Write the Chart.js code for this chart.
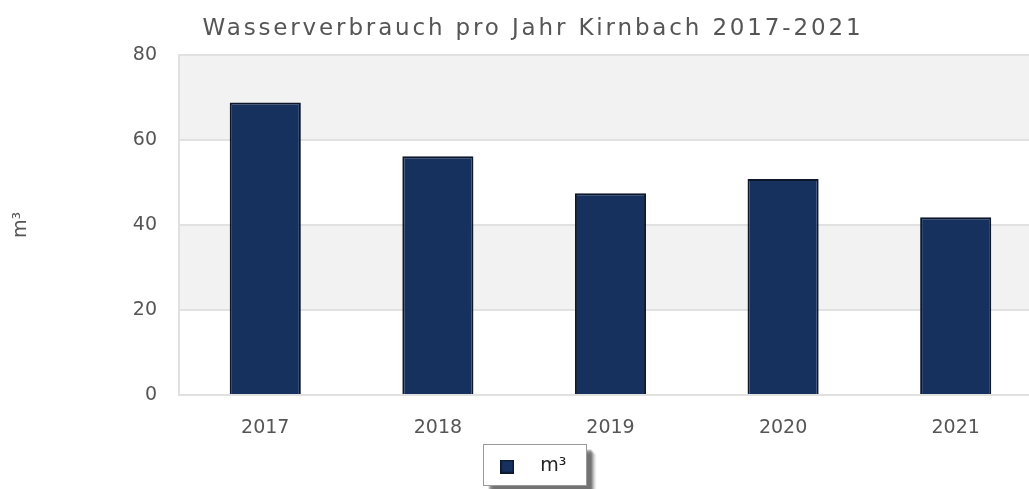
<!DOCTYPE html>
<html lang="de">
<head>
<meta charset="utf-8">
<title>Wasserverbrauch pro Jahr Kirnbach 2017-2021</title>
<script src="https://cdn.jsdelivr.net/npm/chart.js@4.4.1/dist/chart.umd.min.js"></script>
<style>
  html, body { margin: 0; padding: 0; background: #fff; overflow: hidden; }
  #wrap { position: relative; width: 1066px; height: 489px; }
  #chart { position: absolute; left: 0; top: 0; }
  /* Title as HTML so it can carry the wide letter spacing of the original */
  #title {
    position: absolute; left: 0; top: 16px; width: 1066px;
    text-align: center; color: #555;
    font: 23px/23px 'DejaVu Sans', sans-serif; letter-spacing: 2.85px;
  }
</style>
</head>
<body>
<div id="wrap">
  <canvas id="chart" width="1066" height="489"></canvas>
  <div id="title">Wasserverbrauch pro Jahr Kirnbach 2017-2021</div>
</div>
<script>
/* Data */
var YEARS = ['2017', '2018', '2019', '2020', '2021'];
var VOLUMES = [68.8, 56.2, 47.5, 50.8, 41.8];
var SERIES_LABEL = 'm³';
var Y_TITLE = 'm³';
var Y_MIN = 0;
var Y_MAX = 80;
var Y_STEP = 20;

/* Colours */
var BAR_FILL = '#17315f';
var BAR_EDGE = '#0d172b';
var BAND = '#f2f2f2';
var GRID = '#e1e1e1';
var TEXT = '#555';

Chart.defaults.font.family = "'DejaVu Sans', sans-serif";
Chart.defaults.font.size = 19;
Chart.defaults.color = TEXT;

/* Legend swatch: small filled square, drawn once */
var swatch = document.createElement('canvas');
swatch.width = 14;
swatch.height = 14;
(function () {
  var c = swatch.getContext('2d');
  c.fillStyle = BAR_EDGE;
  c.fillRect(0, 0, 14, 14);
  c.fillStyle = BAR_FILL;
  c.fillRect(1.5, 1.5, 11, 11);
})();

/* Alternating grey/white bands behind the plot, every other tick step */
var bandsPlugin = {
  id: 'bands',
  beforeDraw: function (chart) {
    var ctx = chart.ctx, area = chart.chartArea, y = chart.scales.y;
    ctx.save();
    ctx.fillStyle = BAND;
    for (var v = Y_MAX; v > Y_MIN; v -= 2 * Y_STEP) {
      var top = y.getPixelForValue(v);
      var bottom = y.getPixelForValue(v - Y_STEP);
      ctx.fillRect(area.left, top, area.right - area.left, bottom - top);
    }
    ctx.restore();
  }
};

/* Frame with a soft drop shadow around the legend item */
var legendFramePlugin = {
  id: 'legendFrame',
  beforeDraw: function (chart) {
    var boxes = chart.legend && chart.legend.legendHitBoxes;
    if (!boxes || !boxes.length) return;
    var hb = boxes[0];
    var x = Math.round(hb.left) - 0.5;
    var y = Math.round(hb.top) - 12.5;
    var w = Math.round(hb.width) + 20;
    var h = Math.round(hb.height) + 22;
    var ctx = chart.ctx;
    ctx.save();
    /* shadow */
    for (var i = 6; i >= 1; i--) {
      ctx.fillStyle = 'rgba(0,0,0,' + (0.035 * (7 - i)) + ')';
      ctx.fillRect(x + 4 + i, y + 4 + i, w, h);
    }
    ctx.fillStyle = '#fff';
    ctx.fillRect(x, y, w, h);
    ctx.strokeStyle = '#9a9a9a';
    ctx.lineWidth = 1;
    ctx.strokeRect(x, y, w, h);
    ctx.restore();
  }
};

new Chart(document.getElementById('chart'), {
  type: 'bar',
  data: {
    labels: YEARS,
    datasets: [{
      label: SERIES_LABEL,
      data: VOLUMES,
      backgroundColor: BAR_FILL,
      borderColor: BAR_EDGE,
      borderWidth: 2,
      categoryPercentage: 1,
      barPercentage: 0.412
    }]
  },
  options: {
    responsive: false,
    animation: false,
    layout: {
      padding: { left: 8, right: 24, top: 55, bottom: 3 }
    },
    plugins: {
      title: { display: false },
      tooltip: { enabled: false },
      legend: {
        position: 'bottom',
        labels: {
          usePointStyle: true,
          pointStyle: swatch,
          pointStyleWidth: 47,
          padding: 14,
          color: '#222',
          font: { size: 19 }
        }
      }
    },
    scales: {
      x: {
        grid: { display: false, drawTicks: false },
        border: { display: true, color: GRID, width: 2 },
        ticks: { padding: 22, color: TEXT },
        /* labels sit low under the axis; keep the band above the legend tight */
        afterFit: function (scale) { scale.height = 48; }
      },
      y: {
        min: Y_MIN,
        max: Y_MAX,
        ticks: { stepSize: Y_STEP, padding: 22, color: TEXT },
        grid: { color: GRID, lineWidth: 2, drawTicks: false },
        border: { display: true, color: GRID, width: 2 },
        title: {
          display: true,
          text: Y_TITLE,
          color: TEXT,
          font: { size: 19 },
          padding: { top: 1.6, bottom: 78.4 }
        }
      }
    }
  },
  plugins: [bandsPlugin, legendFramePlugin]
});
</script>
</body>
</html>
